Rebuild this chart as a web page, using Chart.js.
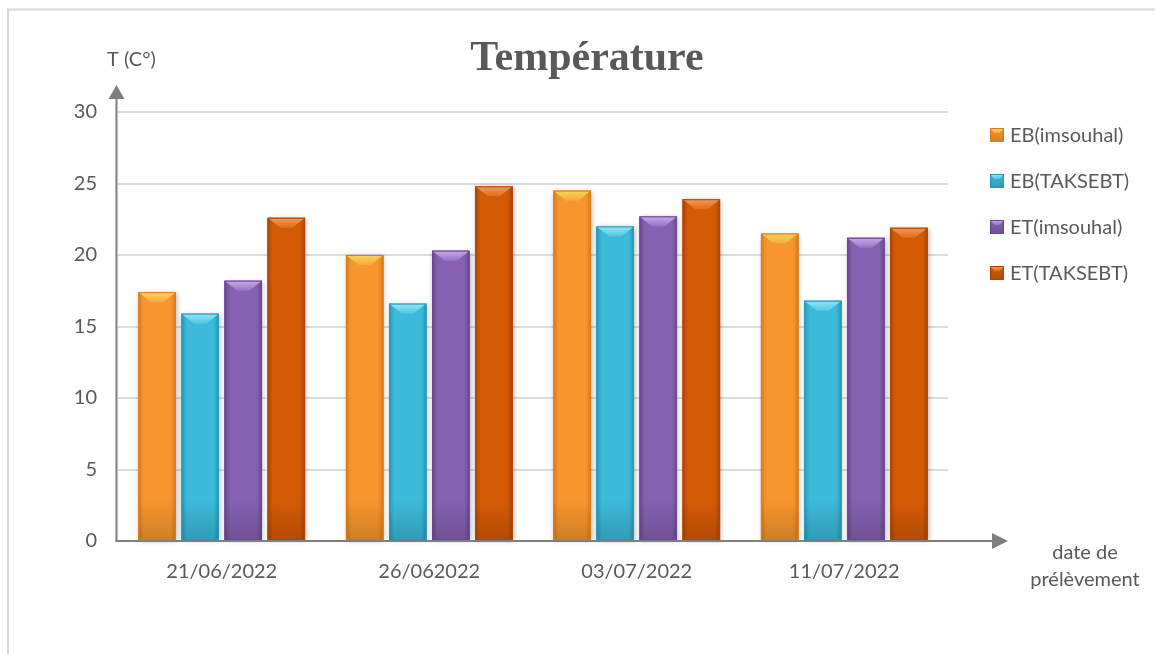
<!DOCTYPE html>
<html>
<head>
<meta charset="utf-8">
<script src="https://cdn.jsdelivr.net/npm/chart.js@4/dist/chart.umd.min.js"></script>
<style>
  html, body { margin: 0; padding: 0; background: #ffffff; }
  #wrap { width: 1155px; height: 654px; position: relative; }
</style>
</head>
<body>
<div id="wrap"><canvas id="c" width="1155" height="654"></canvas></div>
<script>
// Sampling dates and measured temperatures (°C)
const categories = ['21/06/2022', '26/062022', '03/07/2022', '11/07/2022'];
const ebImsouhal = [17.4, 20.0, 24.5, 21.5];
const ebTaksebt  = [15.9, 16.6, 22.0, 16.8];
const etImsouhal = [18.2, 20.3, 22.7, 21.2];
const etTaksebt  = [22.6, 24.8, 23.9, 21.9];
const seriesNames = ['EB(imsouhal)', 'EB(TAKSEBT)', 'ET(imsouhal)', 'ET(TAKSEBT)'];
const yTicks = [0, 5, 10, 15, 20, 25, 30];

const titleText = 'Température';
const yAxisText = 'T (C°)';
const xAxisText = ['date de', 'prélèvement'];

const TEXT = '#595959';
const AXIS = '#7f7f7f';
const FONT = 'Lato';

// Bevelled bar palette: mid body, edges, top face (light/dark), bottom shade
const palette = [
  { mid: '#f7962c', edge: '#dd7a1c', topA: '#fbd65c', topB: '#f7a83c' },
  { mid: '#3bbad9', edge: '#2898b8', topA: '#93e6f5', topB: '#4fc8e3' },
  { mid: '#8561b0', edge: '#684892', topA: '#c9aaee', topB: '#9575c3' },
  { mid: '#d55a06', edge: '#b04604', topA: '#f59c55', topB: '#e26c1a' }
];

function drawBevelBar(ctx, left, top, right, base, c, depthMax, insetRatio, withShadow) {
  const w = right - left;
  const h = base - top;
  if (w <= 0 || h <= 0) return;
  ctx.save();
  if (withShadow) {
    ctx.shadowColor = 'rgba(0,0,0,0.28)';
    ctx.shadowBlur = 5;
    ctx.shadowOffsetX = 1;
    ctx.shadowOffsetY = 1;
    ctx.fillStyle = c.mid;
    ctx.fillRect(left, top, w, h);
    ctx.shadowColor = 'transparent';
  }
  // body: darker rims, brighter middle
  const g = ctx.createLinearGradient(left, 0, right, 0);
  g.addColorStop(0, c.edge);
  g.addColorStop(0.14, c.mid);
  g.addColorStop(0.86, c.mid);
  g.addColorStop(1, c.edge);
  ctx.fillStyle = g;
  ctx.fillRect(left, top, w, h);
  // shade toward the foot of the bar
  const shadeH = Math.min(h, 40);
  const gv = ctx.createLinearGradient(0, base - shadeH, 0, base);
  gv.addColorStop(0, 'rgba(0,0,0,0)');
  gv.addColorStop(1, 'rgba(0,0,0,0.16)');
  ctx.fillStyle = gv;
  ctx.fillRect(left, base - shadeH, w, shadeH);
  // top bevel face
  const d = Math.min(depthMax, h / 2);
  const inset = w * insetRatio;
  const gt = ctx.createLinearGradient(0, top, 0, top + d);
  gt.addColorStop(0, c.topA);
  gt.addColorStop(1, c.topB);
  ctx.fillStyle = gt;
  ctx.beginPath();
  ctx.moveTo(left, top);
  ctx.lineTo(right, top);
  ctx.lineTo(right - inset, top + d);
  ctx.lineTo(left + inset, top + d);
  ctx.closePath();
  ctx.fill();
  // outline
  ctx.strokeStyle = c.edge;
  ctx.lineWidth = 1;
  ctx.strokeRect(left + 0.5, top + 0.5, w - 1, h - 1);
  ctx.restore();
}

const bevelBars = {
  id: 'bevelBars',
  afterDatasetsDraw(chart) {
    const ctx = chart.ctx;
    const area = chart.chartArea;
    ctx.save();
    ctx.beginPath();
    ctx.rect(area.left - 10, area.top - 10, area.right - area.left + 20, area.bottom - area.top + 20);
    ctx.clip();
    chart.data.datasets.forEach((ds, i) => {
      const meta = chart.getDatasetMeta(i);
      meta.data.forEach(bar => {
        const p = bar.getProps(['x', 'y', 'base', 'width'], true);
        drawBevelBar(ctx, p.x - p.width / 2, p.y, p.x + p.width / 2, p.base, palette[i], 10, 0.34, true);
      });
    });
    ctx.restore();
  }
};

const decorations = {
  id: 'decorations',
  beforeDraw(chart) {
    const ctx = chart.ctx;
    ctx.save();
    ctx.fillStyle = '#ffffff';
    ctx.fillRect(0, 0, chart.width, chart.height);
    // outer frame
    ctx.strokeStyle = '#d9d9d9';
    ctx.lineWidth = 2;
    ctx.beginPath();
    ctx.moveTo(8, chart.height + 5);
    ctx.lineTo(8, 9.5);
    ctx.lineTo(chart.width + 5, 9.5);
    ctx.stroke();
    ctx.restore();
  },
  afterDraw(chart) {
    const ctx = chart.ctx;
    const area = chart.chartArea;
    const x0 = area.left - 1.5;
    const y0 = chart.scales.y.getPixelForValue(0);
    ctx.save();
    // axes with arrow heads
    ctx.strokeStyle = AXIS;
    ctx.fillStyle = AXIS;
    ctx.lineWidth = 2;
    ctx.beginPath();
    ctx.moveTo(x0, y0 + 1);
    ctx.lineTo(x0, 99);
    ctx.stroke();
    ctx.beginPath();
    ctx.moveTo(x0, 85);
    ctx.lineTo(x0 + 8, 99);
    ctx.lineTo(x0 - 8, 99);
    ctx.closePath();
    ctx.fill();
    ctx.beginPath();
    ctx.moveTo(x0 - 1, y0);
    ctx.lineTo(993, y0);
    ctx.stroke();
    ctx.beginPath();
    ctx.moveTo(1008, y0);
    ctx.lineTo(992, y0 - 8);
    ctx.lineTo(992, y0 + 8);
    ctx.closePath();
    ctx.fill();

    // title
    ctx.fillStyle = TEXT;
    ctx.textAlign = 'center';
    ctx.textBaseline = 'alphabetic';
    ctx.font = 'bold 42px "Liberation Serif"';
    ctx.fillText(titleText, 587, 70);

    // axis captions
    ctx.font = '20px ' + FONT;
    ctx.textAlign = 'left';
    ctx.textBaseline = 'middle';
    ctx.fillText(yAxisText, 107, 60);
    ctx.textAlign = 'center';
    ctx.fillText(xAxisText[0], 1085, 553);
    ctx.fillText(xAxisText[1], 1085, 580);

    // legend
    const legendY = [135, 181, 227, 273];
    chart.data.datasets.forEach((ds, i) => {
      const cy = legendY[i];
      drawBevelBar(ctx, 990, cy - 7, 1004, cy + 7, palette[i], 5, 0.3, false);
      ctx.fillStyle = TEXT;
      ctx.font = '20px ' + FONT;
      ctx.textAlign = 'left';
      ctx.textBaseline = 'middle';
      ctx.fillText(ds.label, 1010, cy + 1);
    });
    ctx.restore();
  }
};

const seriesValues = [ebImsouhal, ebTaksebt, etImsouhal, etTaksebt];

new Chart(document.getElementById('c'), {
  type: 'bar',
  data: {
    labels: categories,
    datasets: seriesValues.map((vals, i) => ({
      label: seriesNames[i],
      data: vals,
      backgroundColor: palette[i].mid,
      borderWidth: 0,
      categoryPercentage: 0.83,
      barPercentage: 0.87
    }))
  },
  options: {
    responsive: false,
    animation: false,
    devicePixelRatio: 1,
    layout: { padding: { top: 112, right: 207, left: 0, bottom: 0 } },
    plugins: {
      legend: { display: false },
      title: { display: false },
      tooltip: { enabled: false }
    },
    scales: {
      x: {
        grid: { display: false, drawTicks: false },
        border: { display: false },
        ticks: { color: TEXT, font: { family: FONT, size: 20 }, padding: 19, maxRotation: 0 },
        afterFit(scale) { scale.height = 113; }
      },
      y: {
        min: 0,
        max: 30,
        afterBuildTicks(scale) { scale.ticks = yTicks.map(v => ({ value: v })); },
        grid: { color: '#dcdcdc', lineWidth: 2, drawTicks: false },
        border: { display: false },
        ticks: { color: TEXT, font: { family: FONT, size: 20 }, padding: 21 },
        afterFit(scale) { scale.width = 118; }
      }
    }
  },
  plugins: [decorations, bevelBars]
});
</script>
</body>
</html>
